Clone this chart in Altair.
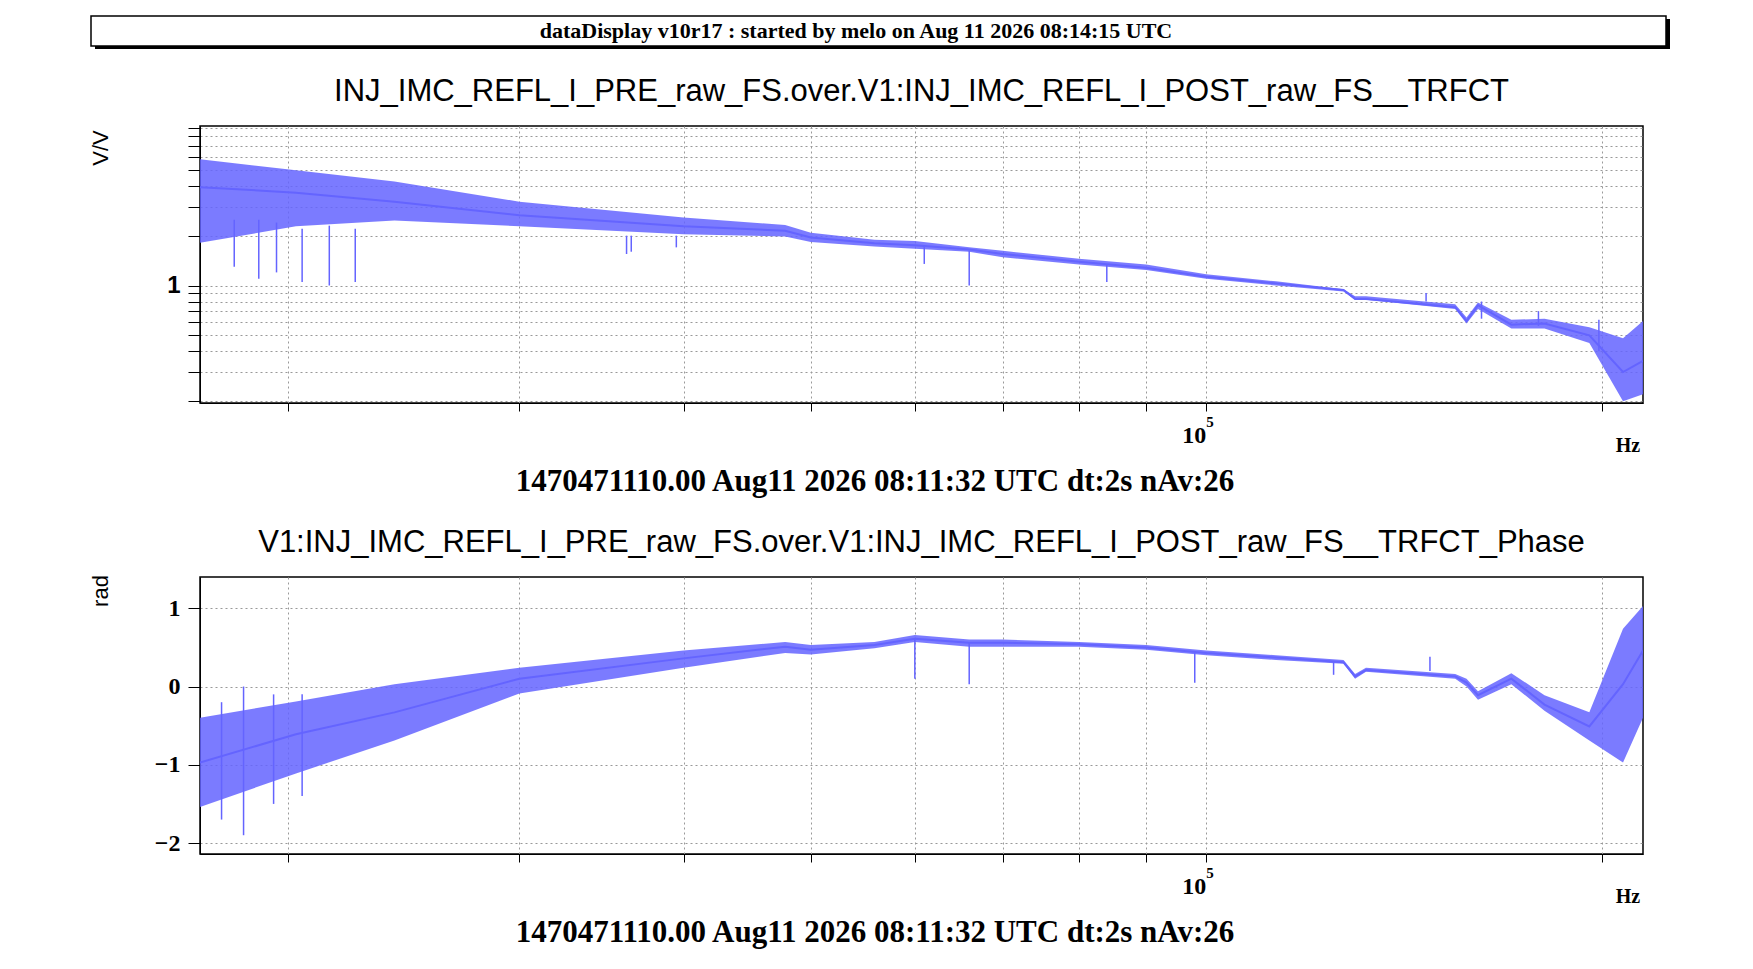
import altair as alt
import pandas as pd

# frequency samples (Hz)
freq = [17140, 20280, 24100, 30000, 40000, 47800, 50000, 55900, 60000, 66000,
        70000, 80000, 90000, 100000, 113000, 127200, 129800, 132300, 154700,
        157800, 161000, 170700, 180900, 195700, 207600, 215000]

# magnitude (V/V): envelope and centre
mag_hi = [5.8, 4.97, 4.25, 3.21, 2.58, 2.32, 2.08, 1.89, 1.86, 1.70, 1.62, 1.45, 1.34, 1.17,
          1.06, 0.95, 0.86, 0.86, 0.77, 0.64, 0.79, 0.62, 0.63, 0.56, 0.48, 0.61]
mag_mid = [3.93, 3.64, 3.21, 2.66, 2.28, 2.14, 1.95, 1.80, 1.75, 1.65, 1.55, 1.39, 1.28, 1.13,
           1.03, 0.94, 0.83, 0.83, 0.74, 0.61, 0.76, 0.58, 0.59, 0.50, 0.30, 0.35]
mag_lo = [1.81, 2.28, 2.47, 2.28, 2.04, 1.98, 1.83, 1.72, 1.67, 1.60, 1.48, 1.34, 1.24, 1.10,
          1.00, 0.92, 0.82, 0.82, 0.72, 0.59, 0.72, 0.55, 0.55, 0.45, 0.20, 0.22]

# phase (rad)
ph_hi = [-0.40, -0.19, 0.03, 0.24, 0.46, 0.57, 0.53, 0.57, 0.66, 0.60, 0.60, 0.57, 0.53, 0.46,
         0.40, 0.34, 0.16, 0.24, 0.16, 0.10, -0.06, 0.17, -0.11, -0.33, 0.74, 1.03]
ph_mid = [-0.97, -0.61, -0.33, 0.10, 0.36, 0.51, 0.47, 0.53, 0.61, 0.56, 0.56, 0.54, 0.50, 0.43,
          0.37, 0.31, 0.13, 0.21, 0.13, 0.05, -0.11, 0.10, -0.23, -0.51, 0.03, 0.46]
ph_lo = [-1.54, -1.11, -0.69, -0.09, 0.24, 0.43, 0.41, 0.49, 0.57, 0.51, 0.51, 0.51, 0.47, 0.40,
         0.34, 0.29, 0.10, 0.19, 0.10, 0.00, -0.17, 0.03, -0.31, -0.69, -0.97, -0.40]

# narrow spikes
mag_spk_f = [18200, 19000, 19600, 20500, 21500, 22500, 36200, 36500, 39500, 66000, 61000, 84000,
             147000, 162000, 179000, 199000]
mag_spk_hi = [2.5, 2.5, 2.4, 2.2, 2.3, 2.2, 2.0, 2.0, 2.0, 1.62, 1.75, 1.35, 0.90, 0.80, 0.70, 0.62]
mag_spk_lo = [1.3, 1.1, 1.2, 1.05, 1.0, 1.05, 1.55, 1.6, 1.7, 1.0, 1.35, 1.05, 0.80, 0.63, 0.57, 0.40]
ph_spk_f = [17800, 18500, 19500, 20500, 66000, 60000, 98000, 125000, 148000]
ph_spk_hi = [-0.2, 0.0, -0.1, -0.1, 0.56, 0.61, 0.43, 0.32, 0.38]
ph_spk_lo = [-1.7, -1.9, -1.5, -1.4, 0.03, 0.1, 0.05, 0.15, 0.2]

grid_x = [20000, 30000, 40000, 50000, 60000, 70000, 80000, 90000, 100000, 200000]
mag_ticks = [0.2, 0.3, 0.4, 0.5, 0.6, 0.7, 0.8, 0.9, 1, 2, 3, 4, 5, 6, 7, 8, 9]
ph_ticks = [-2, -1, 0, 1]

banner = "dataDisplay v10r17 : started by melo on Aug 11 2026 08:14:15 UTC"
title1 = "INJ_IMC_REFL_I_PRE_raw_FS.over.V1:INJ_IMC_REFL_I_POST_raw_FS__TRFCT"
title2 = "V1:INJ_IMC_REFL_I_PRE_raw_FS.over.V1:INJ_IMC_REFL_I_POST_raw_FS__TRFCT_Phase"
footer = "1470471110.00 Aug11 2026 08:11:32 UTC dt:2s nAv:26"

W, H = 1443, 277
BLUE = "#6464ff"
SERIF = "Liberation Serif"
SANS = "Liberation Sans"

xscale = alt.Scale(type="log", domain=[17140, 215000], nice=False)
xaxis = alt.Axis(values=grid_x, labels=False, title=None, gridDash=[2, 3], gridColor="#999",
                 tickSize=8, domainColor="black", tickColor="black")


def panel(hi, mid, lo, sf, shi, slo, yscale, yaxis, ylab, ytxt_y, title):
    df = pd.DataFrame({"f": freq, "hi": hi, "mid": mid, "lo": lo})
    sp = pd.DataFrame({"f": sf, "hi": shi, "lo": slo})
    x = alt.X("f:Q", scale=xscale, axis=xaxis)
    band = alt.Chart(df).mark_area(color=BLUE, opacity=0.85, clip=True).encode(
        x=x, y=alt.Y("hi:Q", scale=yscale, axis=yaxis), y2="lo:Q")
    line = alt.Chart(df).mark_line(color=BLUE, strokeWidth=2, clip=True).encode(x=x, y="mid:Q")
    spikes = alt.Chart(sp).mark_rule(color=BLUE, strokeWidth=1.5, clip=True).encode(
        x="f:Q", y="hi:Q", y2="lo:Q")
    one = pd.DataFrame({"a": [0]})
    t = alt.Chart(one).mark_text(fontSize=31, font=SANS, align="center").encode(
        x=alt.value(W / 2), y=alt.value(-34), text=alt.value(title))
    ft = alt.Chart(one).mark_text(fontSize=31, font=SERIF, fontWeight="bold", align="center").encode(
        x=alt.value(675), y=alt.value(356), text=alt.value(footer))
    ten = alt.Chart(pd.DataFrame({"f": [100000]})).mark_text(
        fontSize=24, font=SERIF, fontWeight="bold", align="right").encode(
        x="f:Q", y=alt.value(310), text=alt.value("10"))
    five = alt.Chart(pd.DataFrame({"f": [100000]})).mark_text(
        fontSize=15, font=SERIF, fontWeight="bold", align="left").encode(
        x="f:Q", y=alt.value(296), text=alt.value("5"))
    hz = alt.Chart(one).mark_text(fontSize=20, font=SERIF, fontWeight="bold", align="center").encode(
        x=alt.value(1428), y=alt.value(320), text=alt.value("Hz"))
    yl = alt.Chart(one).mark_text(fontSize=22, font=SANS, angle=270).encode(
        x=alt.value(-99), y=alt.value(ytxt_y), text=alt.value(ylab))
    return alt.layer(band, line, spikes, t, ft, ten, five, hz, yl).properties(width=W, height=H)


top_axis = alt.Axis(values=mag_ticks, labelExpr="datum.value == 1 ? '1' : ''", title=None,
                    gridDash=[2, 3], gridColor="#999", labelFontSize=24, labelFont=SANS,
                    labelFontWeight="bold", tickSize=12, labelPadding=8,
                    domainColor="black", tickColor="black")
bot_axis = alt.Axis(values=ph_ticks, format="d", title=None, gridDash=[2, 3], gridColor="#999",
                    labelFontSize=24, labelFont=SERIF, labelFontWeight="bold", tickSize=12,
                    labelPadding=8, domainColor="black", tickColor="black")

p1 = panel(mag_hi, mag_mid, mag_lo, mag_spk_f, mag_spk_hi, mag_spk_lo,
           alt.Scale(type="log", domain=[0.195, 9.2], nice=False), top_axis, "V/V", 22, title1)
p2 = panel(ph_hi, ph_mid, ph_lo, ph_spk_f, ph_spk_hi, ph_spk_lo,
           alt.Scale(domain=[-2.14, 1.4], nice=False, zero=False), bot_axis, "rad", 14, title2)

one = pd.DataFrame({"a": [0]})
shadow = alt.Chart(one).mark_rect(fill="black").encode(
    x=alt.value(-105), x2=alt.value(1470), y=alt.value(-107), y2=alt.value(-77))
box = alt.Chart(one).mark_rect(fill="white", stroke="black", strokeWidth=1.5).encode(
    x=alt.value(-109), x2=alt.value(1466), y=alt.value(-110), y2=alt.value(-80))
btxt = alt.Chart(one).mark_text(fontSize=22, font=SERIF, fontWeight="bold", align="center").encode(
    x=alt.value(656), y=alt.value(-95), text=alt.value(banner))
p1 = alt.layer(shadow, box, btxt, p1)

chart = alt.vconcat(p1, p2, spacing=28).properties(
    padding={"left": 81, "top": 6, "right": 5, "bottom": 5},
).configure_view(stroke="black", strokeWidth=1.5)

chart.save("out.html", embed_options={"renderer": "svg", "actions": False})
